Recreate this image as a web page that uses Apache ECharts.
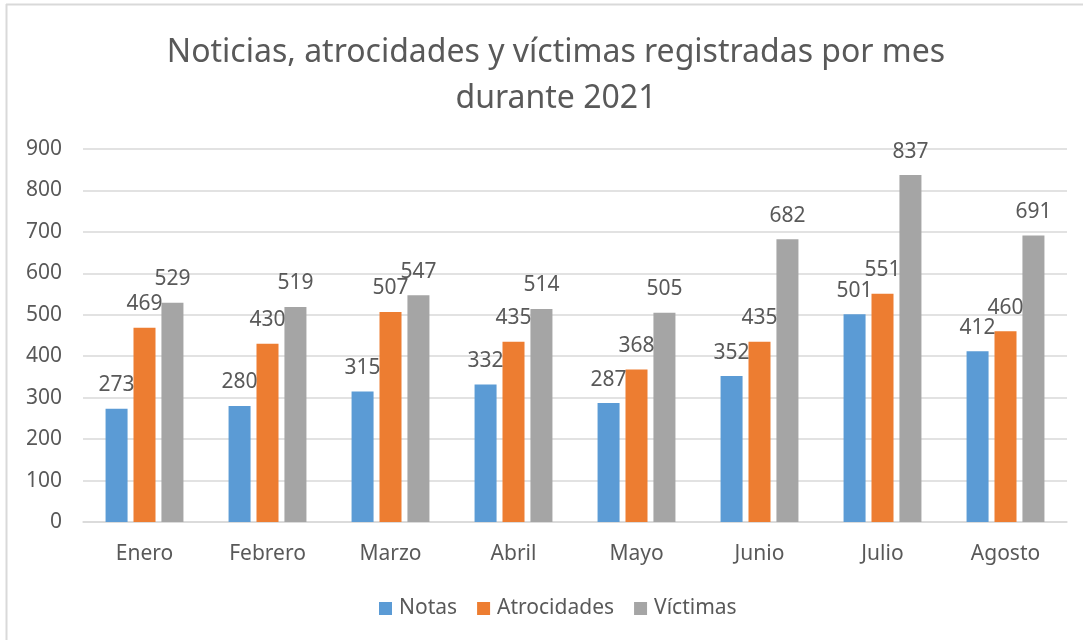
<!DOCTYPE html>
<html>
<head>
<meta charset="utf-8">
<title>Noticias, atrocidades y víctimas 2021</title>
<script src="https://cdn.jsdelivr.net/npm/echarts@6/dist/echarts.min.js"></script>
<style>
  html, body { margin: 0; padding: 0; background: #fff; }
  #chart { width: 1083px; height: 640px; }
</style>
</head>
<body>
<div id="chart"></div>
<script>
const months = ['Enero', 'Febrero', 'Marzo', 'Abril', 'Mayo', 'Junio', 'Julio', 'Agosto'];
const notas = [273, 280, 315, 332, 287, 352, 501, 412];
const atrocidades = [469, 430, 507, 435, 368, 435, 551, 460];
const victimas = [529, 519, 547, 514, 505, 682, 837, 691];

const textColor = '#595959';
const font = '"Noto Sans", "DejaVu Sans", sans-serif';

function barSeries(name, data, color) {
  return {
    name: name,
    type: 'bar',
    data: data,
    barWidth: 22,
    barGap: '27%',
    itemStyle: { color: color },
    label: {
      show: true,
      position: 'top',
      distance: 13,
      color: textColor,
      fontFamily: font,
      fontSize: 21,
    },
  };
}

const myChart = echarts.init(document.getElementById('chart'));
const option = {
  animation: false,
  textStyle: { fontFamily: font },
  title: {
    text: 'Noticias, atrocidades y víctimas registradas por mes\ndurante 2021',
    left: 551,
    textAlign: 'center',
    top: 25,
    textStyle: {
      color: textColor,
      fontFamily: font,
      fontSize: 32,
      fontWeight: 'normal',
      lineHeight: 46,
    },
  },
  legend: {
    left: 374,
    top: 593,
    itemWidth: 13,
    itemHeight: 13,
    itemGap: 20,
    icon: 'rect',
    textStyle: { color: textColor, fontFamily: font, fontSize: 21, padding: [0, 0, 0, 2] },
    data: ['Notas', 'Atrocidades', 'Víctimas'],
  },
  grid: { left: 83, right: 16, top: 149, bottom: 118, containLabel: false },
  xAxis: {
    type: 'category',
    data: months,
    axisLine: { lineStyle: { color: '#d9d9d9', width: 1.5 } },
    axisTick: { show: false },
    axisLabel: { color: textColor, fontFamily: font, fontSize: 21, margin: 22 },
  },
  yAxis: {
    type: 'value',
    min: 0,
    max: 900,
    interval: 100,
    axisLine: { show: false },
    axisTick: { show: false },
    splitLine: { lineStyle: { color: '#d9d9d9', width: 1.5 } },
    axisLabel: { color: textColor, fontFamily: font, fontSize: 21, margin: 21 },
  },
  graphic: [
    { type: 'line', shape: { x1: 6.5, y1: 4, x2: 6.5, y2: 640 }, style: { stroke: '#d9d9d9', lineWidth: 2 } },
    { type: 'line', shape: { x1: 6, y1: 4.5, x2: 1083, y2: 4.5 }, style: { stroke: '#d9d9d9', lineWidth: 2 } },
  ],
  series: [
    barSeries('Notas', notas, '#5b9bd5'),
    barSeries('Atrocidades', atrocidades, '#ed7d31'),
    barSeries('Víctimas', victimas, '#a5a5a5'),
  ],
};
myChart.setOption(option);
</script>
</body>
</html>
